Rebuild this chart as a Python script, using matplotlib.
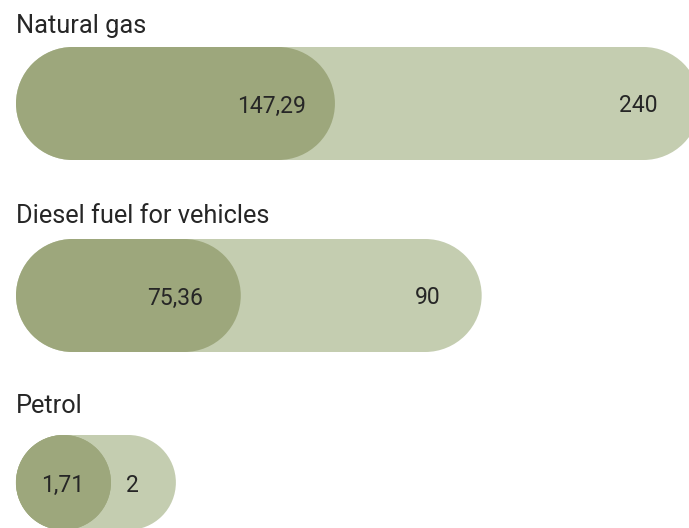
import matplotlib
matplotlib.use("Agg")
import matplotlib.pyplot as plt
from matplotlib.patches import Rectangle, Circle

# Data
categories = ["Natural gas", "Diesel fuel for vehicles", "Petrol"]
actual = [147.29, 75.36, 1.71]
limit = [240, 90, 2]

# Visible value window of each row (pill starts at the window's left edge)
windows = [(66.3, 237.2), (61.7, 102.6), (1.2865, 4.29)]

# Layout (pixels on a 689 x 528 canvas)
W, H, DPI = 689, 528, 100
LEFT = 16
title_baselines = [33, 223, 413]
row_centers = [103.5, 295.5, 482.5]
row_heights = [113, 113, 95]
# distance of each value label's centre from the pill's right end
actual_label_inset = [63, 66, 48]
limit_label_inset = [62, 54, 43]

DARK = "#9da77c"
LIGHT = "#c4cdb0"
TEXT = "#262626"
FONT = ["Roboto", "DejaVu Sans"]


def fmt(v):
    if float(v).is_integer():
        return str(int(v))
    return f"{v:.2f}".replace(".", ",")


def pill(ax, start, end, height, color):
    r = height / 2
    ax.add_patch(Rectangle((start + r, -r), max(end - start - 2 * r, 0), height,
                           facecolor=color, edgecolor="none", clip_on=False))
    for cx in (start + r, end - r):
        ax.add_patch(Circle((cx, 0), r, facecolor=color, edgecolor="none",
                            clip_on=False))


fig = plt.figure(figsize=(W / DPI, H / DPI), dpi=DPI)
fig.patch.set_facecolor("white")

for i, name in enumerate(categories):
    h = row_heights[i]
    x0, x1 = windows[i]
    axw = W - LEFT
    axh = h + 2
    bottom = H - (row_centers[i] + axh / 2)
    ax = fig.add_axes([LEFT / W, bottom / H, axw / W, axh / H])
    ax.set_axis_off()
    u = (x1 - x0) / axw  # data units per pixel, same on both axes
    ax.set_xlim(x0, x1)
    ax.set_ylim(-axh / 2 * u, axh / 2 * u)
    ph = h * u
    for val, col, inset in ((limit[i], LIGHT, limit_label_inset[i]),
                            (actual[i], DARK, actual_label_inset[i])):
        pill(ax, x0, val, ph, col)
        ax.annotate(fmt(val), xy=(val, 0), xycoords="data",
                    xytext=(-inset * 72 / DPI, -9 * 72 / DPI),
                    textcoords="offset points", ha="center", va="baseline",
                    fontsize=16.5, color=TEXT, family=FONT,
                    annotation_clip=False)

    fig.text(LEFT / W, 1 - title_baselines[i] / H, name, ha="left",
             va="baseline", fontsize=18.3, color=TEXT, family=FONT)

fig.savefig("out.png", dpi=DPI, facecolor="white")
